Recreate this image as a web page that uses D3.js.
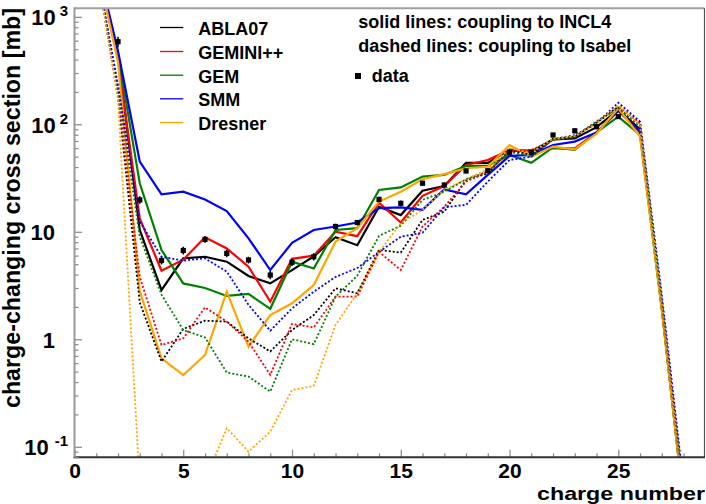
<!DOCTYPE html>
<html><head><meta charset="utf-8">
<script src="https://cdn.jsdelivr.net/npm/d3@7"></script>
<style>
body{margin:0;background:#fff}
text{font-family:"Liberation Sans",Arial,Helvetica,sans-serif;font-weight:bold;fill:#000}
</style>
</head><body>
<svg id="chart" width="706" height="504"></svg>
<script>
// ---- data ----
const charges = [1,2,3,4,5,6,7,8,9,10,11,12,13,14,15,16,17,18,19,20,21,22,23,24,25,26,27,28];

const models = ["ABLA07","GEMINI++","GEM","SMM","Dresner"];
const modelColors = ["#000000","#ff0000","#008000","#0000ff","#ffa500"];

// solid lines: coupling to INCL4
const ablaIncl    = [3200,430,10.4,2.87,5.66,5.86,5.27,3.88,3.31,4.4,5.9,8.9,7.5,17.1,14.3,24.1,26.6,43.8,43.8,58,55.6,72.5,74,94,136,90,2.0,0.032];
const geminiIncl  = [3200,400,13.3,4.35,5.5,8.9,7.0,4.73,2.24,5.6,6.0,10.0,9.1,18.7,12.2,21.6,26.6,41.8,46.5,57.7,57,59.7,59.7,84,134,85.5,2.0,0.03];
const gemIncl     = [3300,450,28.3,6.77,3.31,3.0,2.53,2.64,1.92,5.27,4.55,10.4,10.8,24.5,25.9,32.6,33.8,41,41,51.8,43.8,61,57.7,84,118,79.5,1.9,0.03];
const smmIncl     = [3400,480,45,22.3,23.6,20.0,15.6,8.7,4.41,7.9,10.4,11.2,12.2,16.6,16.9,16.0,24.8,22.3,33.8,50.8,51.8,64.2,69,84,134,85.5,2.1,0.035];
const dresnerIncl = [3200,380,2.8,0.666,0.465,0.714,2.77,0.853,1.68,2.16,3.2,8.1,10.8,19.1,23.6,30.8,34.4,39,40.3,64,50,62,58.5,82,141,77,1.9,0.03];

// dashed lines: coupling to Isabel
const ablaIsab    = [3000,180,2.2,0.62,1.25,1.49,1.46,1.02,0.77,1.22,1.68,2.98,2.68,6.77,6.4,12.9,15.4,30.3,35,57.7,51.8,73,77,103,146,98,2.2,0.035];
const geminiIsab  = [3000,200,3.8,0.885,1.02,1.98,1.46,0.95,0.466,1.39,1.29,2.49,2.49,6.5,4.41,11.2,17.1,29.3,36.3,55.6,57.7,71.4,77,106,148,102,2.3,0.04];
const gemIsab     = [3000,220,9.0,2.6,1.22,1.04,0.49,0.45,0.326,1.0,0.9,2.49,3.9,9.15,11.4,19.8,23.6,30.8,36.3,55.6,50,72,76,106,141,95,2.2,0.035];
const smmIsab     = [3000,230,12.5,5.86,5.39,5.66,4.26,2.09,1.2,1.94,2.77,3.8,4.6,6.5,9.0,9.8,16.9,17.8,29.3,46.5,50,72.5,79.5,102,159,106,2.6,0.045];
const dresnerIsab = [3000,170,0.045,0.02,0.02,0.048,0.149,0.09,0.138,0.337,0.368,1.36,2.68,6.5,12.0,16,24.5,30.8,38.1,59.7,54.6,73,78,102,150,98,2.2,0.035];

const dataCharges = [2,3,4,5,6,7,8,9,10,11,12,13,14,15,16,17,18,19,20,21,22,23,24,25];
const dataValues  = [587,19.8,5.4,6.7,8.5,6.3,5.47,3.96,5.2,5.86,11.2,12.2,20.0,18.4,28.3,27.2,36.8,37,55,55,79.5,87,95,118];
const dataErrors  = [65,1.6,0.45,0.55,0.6,0.5,0.4,0.35,0.4,0.45,0.7,0.7,1.2,1.1,1.5,1.5,2,2,3,3,4,4.5,5,5];

const xTickValues = [0,5,10,15,20,25];
const yTickValues = [0.1,1,10,100,1000];
const yTickBase   = ["10","1","10","10","10"];
const yTickExp    = ["-1","","","2","3"];

const solidSeries  = [ablaIncl,geminiIncl,gemIncl,smmIncl,dresnerIncl];
const dashedSeries = [ablaIsab,geminiIsab,gemIsab,smmIsab,dresnerIsab];

// ---- layout ----
const L = 74.5, R = 705.3, T = 8.3, B = 457.3;
const svg = d3.select("#chart");
const x = d3.scaleLinear().domain([0,29]).range([L,R]);
const y = d3.scaleLog().domain([0.0798,1200]).range([B,T]);

svg.append("defs").append("clipPath").attr("id","clip")
  .append("rect").attr("x",L).attr("y",T).attr("width",704.5-L).attr("height",B-T);

const plot = svg.append("g").attr("clip-path","url(#clip)");
const line = d3.line().x((d,i)=>x(charges[i])).y(d=>y(d));

solidSeries.forEach((s,k)=>{
  plot.append("path").datum(s).attr("d",line)
    .attr("fill","none").attr("stroke",modelColors[k]).attr("stroke-width",2.2)
    .attr("stroke-linejoin","miter");
});
dashedSeries.forEach((s,k)=>{
  plot.append("path").datum(s).attr("d",line)
    .attr("fill","none").attr("stroke",modelColors[k]).attr("stroke-width",1.8)
    .attr("stroke-dasharray","2,2");
});

// data points
const pts = plot.append("g");
dataCharges.forEach((z,i)=>{
  const cx = x(z), v = dataValues[i], e = dataErrors[i];
  pts.append("line").attr("x1",cx).attr("x2",cx)
    .attr("y1",y(v+e)).attr("y2",y(v-e)).attr("stroke","#000").attr("stroke-width",1.5);
  pts.append("rect").attr("x",cx-2.6).attr("y",y(v)-2.6).attr("width",5.2).attr("height",5.2).attr("fill","#000");
});

// ---- frame & axes ----
svg.append("line").attr("x1",L).attr("x2",704.5).attr("y1",T).attr("y2",T).attr("stroke","#a0a0a0").attr("stroke-width",2);
svg.append("line").attr("x1",704.5).attr("x2",704.5).attr("y1",T).attr("y2",B).attr("stroke","#555").attr("stroke-width",1.2);

// x axis ticks
const xMinor = svg.append("g").attr("transform",`translate(0,${B})`)
  .call(d3.axisBottom(x).tickValues(charges.filter(c=>c%5!==0)).tickSizeInner(-4).tickSizeOuter(0).tickFormat(""));
const xMajor = svg.append("g").attr("transform",`translate(0,${B})`)
  .call(d3.axisBottom(x).tickValues(xTickValues).tickSizeInner(-7.5).tickSizeOuter(0).tickPadding(6).tickFormat(d3.format("d")));
[xMinor,xMajor].forEach(g=>{
  g.select(".domain").remove();
  g.selectAll(".tick line").attr("stroke","#888").attr("stroke-width",1.2);
});
xMajor.selectAll(".tick text").attr("font-size",21).attr("font-family","Liberation Sans, Arial, sans-serif").attr("font-weight","bold").attr("fill","#000");
svg.append("line").attr("x1",L-1).attr("x2",705).attr("y1",B).attr("y2",B).attr("stroke","#333").attr("stroke-width",2);

// y axis ticks
const yMinorVals = y.ticks().filter(v=>!yTickValues.some(t=>Math.abs(Math.log10(v)-Math.log10(t))<1e-6));
const yMinor = svg.append("g").attr("transform",`translate(${L},0)`)
  .call(d3.axisLeft(y).tickValues(yMinorVals).tickSizeInner(-4).tickSizeOuter(0).tickFormat(""));
const yMajor = svg.append("g").attr("transform",`translate(${L},0)`)
  .call(d3.axisLeft(y).tickValues(yTickValues).tickSizeInner(-7.5).tickSizeOuter(0).tickFormat(""));
[yMinor,yMajor].forEach(g=>{
  g.select(".domain").remove();
  g.selectAll(".tick line").attr("stroke","#888").attr("stroke-width",1.2);
});
svg.append("line").attr("x1",L).attr("x2",L).attr("y1",T-1).attr("y2",B).attr("stroke","#999").attr("stroke-width",2);

yTickValues.forEach((v,i)=>{
  const hasExp = yTickExp[i] !== "";
  const t = svg.append("text").attr("x",hasExp?68:55).attr("y",y(v)+8.5)
    .attr("text-anchor","end").attr("font-size",22).text(yTickBase[i]);
  if(hasExp){
    t.append("tspan").attr("dx",yTickExp[i].startsWith("-")?6:4).attr("dy",-9).attr("font-size",15).text(yTickExp[i]);
  }
});

// axis titles
svg.append("text").attr("transform","translate(19.5,8) rotate(-90)")
  .attr("text-anchor","end").attr("font-size",23)
  .attr("textLength",400).attr("lengthAdjust","spacingAndGlyphs")
  .text("charge-changing cross section [mb]");
svg.append("text").attr("x",705).attr("y",500)
  .attr("text-anchor","end").attr("font-size",19)
  .attr("textLength",168).attr("lengthAdjust","spacingAndGlyphs")
  .text("charge number");

// legend
const legY = [35,59,82.7,106.3,130];
models.forEach((m,k)=>{
  svg.append("line").attr("x1",160).attr("x2",183.3).attr("y1",legY[k]-7.5).attr("y2",legY[k]-7.5)
    .attr("stroke",modelColors[k]).attr("stroke-width",1.3);
  svg.append("text").attr("x",198.3).attr("y",legY[k]).attr("font-size",18).text(m);
});
svg.append("text").attr("x",358.3).attr("y",28.3).attr("font-size",18).text("solid lines: coupling to INCL4");
svg.append("text").attr("x",358.3).attr("y",51.7).attr("font-size",18).text("dashed lines: coupling to Isabel");
svg.append("rect").attr("x",355).attr("y",73).attr("width",6).attr("height",6).attr("fill","#000");
svg.append("text").attr("x",371.7).attr("y",81.7).attr("font-size",18).text("data");
</script>
</body></html>
